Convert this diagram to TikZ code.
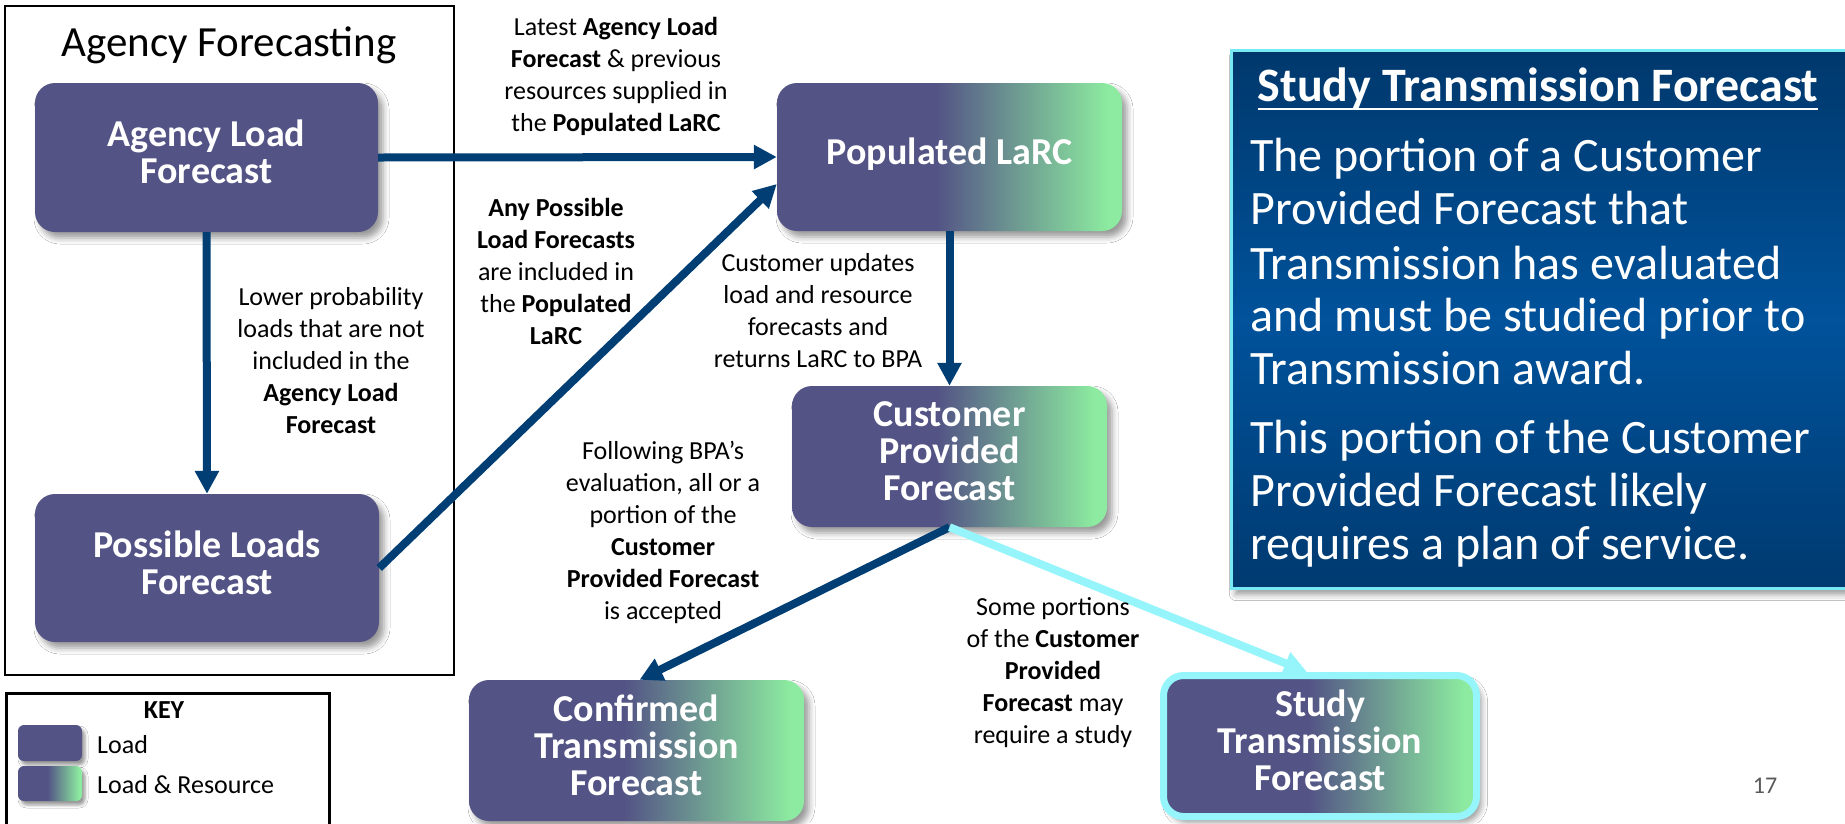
\documentclass[tikz,border=0pt]{standalone}
\usepackage{fontspec}
\setmainfont{Carlito}
\usetikzlibrary{arrows.meta,shadows.blur}
\definecolor{loadc}{RGB}{83,83,133}
\definecolor{resc}{RGB}{140,235,160}
\definecolor{arrc}{RGB}{0,62,116}
\definecolor{cyanc}{RGB}{150,245,250}
\definecolor{infotop}{RGB}{0,56,108}
\definecolor{infomid}{RGB}{0,82,155}
\definecolor{infobot}{RGB}{0,58,112}
\definecolor{infoborder}{RGB}{120,232,245}
\definecolor{pgnum}{RGB}{89,89,89}
\pgfdeclarehorizontalshading{loadres}{100bp}{color(0bp)=(loadc); color(48bp)=(loadc); color(73bp)=(resc); color(100bp)=(resc)}
\tikzset{
  nodebox/.style={rounded corners=20pt, inner sep=4pt, text=white, align=center,
    font=\bfseries\fontsize{38}{37}\selectfont, text depth=11pt,
    blur shadow={shadow xshift=5pt, shadow yshift=-6pt, shadow blur radius=6pt, shadow opacity=40}},
  loadbox/.style={nodebox, fill=loadc},
  lrbox/.style={nodebox, shading=loadres},
  arr/.style={draw=arrc, line width=8pt, -{Triangle[length=23pt,width=23pt]}},
  carr/.style={arr, draw=cyanc},
  lbl/.style={font=\fontsize{26}{32}\selectfont, align=center, text=black, inner sep=0pt},
  frame/.style={draw=black, line width=2.5pt, inner sep=0pt, fill=none},
  swatch/.style={rounded corners=6pt, minimum width=64pt, inner sep=0pt,
    blur shadow={shadow xshift=3pt, shadow yshift=-4pt, shadow blur radius=3pt, shadow opacity=40}},
  infoline/.style={anchor=base west, inner sep=0pt, text=white, font=\fontsize{48}{53}\selectfont},
  keytext/.style={anchor=west, inner sep=0pt, font=\fontsize{26}{30}\selectfont}
}
\begin{document}
\begin{tikzpicture}[x=1pt,y=-1pt]
\useasboundingbox (0,0) rectangle (1845,823);
\fill[white] (0,0) rectangle (1845,823);

% Agency forecasting frame
\node[frame, minimum width=449pt, minimum height=669pt] (agf) at (229.5,340.5) {};
\node[inner sep=0pt, font=\fontsize{43}{50}\selectfont] (agft) at (229,45) {Agency Forecasting};

% Key frame
\node[frame, minimum width=323pt, minimum height=160pt, anchor=north west] (keyb) at (5,692) {};
\node[inner sep=0pt, font=\bfseries\fontsize{26}{30}\selectfont] (keyt) at (164,710) {KEY};
\node[swatch, fill=loadc, minimum height=36pt] (sw1) at (50,743) {};
\node[swatch, shading=loadres, minimum height=35pt] (sw2) at (50,783.5) {};
\node[keytext] (kl1) at (97,745) {Load};
\node[keytext] (kl2) at (97,785) {Load \& Resource};

% Info box
\node[draw=infoborder, line width=3pt, top color=infotop, bottom color=infobot, middle color=infomid,
  minimum width=620pt, minimum height=538pt, anchor=north west, inner sep=0pt,
  blur shadow={shadow xshift=4pt, shadow yshift=-6pt, shadow blur radius=6pt, shadow opacity=40}] (info) at (1230,49) {};
\node[anchor=base, inner sep=0pt, text=white, font=\bfseries\fontsize{48}{53}\selectfont] (infot) at (1538,101) {Study Transmission Forecast};
\draw[white, line width=2.5pt] ([yshift=-8pt]infot.base west) -- ([yshift=-8pt]infot.base east);
\node[infoline] (i1) at (1250,171) {The portion of a Customer};
\node[infoline] (i2) at (1250,224) {Provided Forecast that};
\node[infoline] (i3) at (1250,279) {Transmission has evaluated};
\node[infoline] (i4) at (1250,331) {and must be studied prior to};
\node[infoline] (i5) at (1250,384) {Transmission award.};
\node[infoline] (i6) at (1250,453) {This portion of the Customer};
\node[infoline] (i7) at (1250,506) {Provided Forecast likely};
\node[infoline] (i8) at (1250,559) {requires a plan of service.};

% Main nodes
\node[loadbox, minimum width=343pt, minimum height=149pt] (alf) at (206.5,157.5) {Agency Load\\Forecast};
\node[loadbox, minimum width=344pt, minimum height=148pt] (plf) at (207,568) {Possible Loads\\Forecast};
\node[lrbox, minimum width=345pt, minimum height=148pt] (plarc) at (949.5,157) {Populated LaRC};
\node[lrbox, minimum width=315pt, minimum height=141pt] (cpf) at (949.5,456.5) {Customer\\Provided\\Forecast};
\node[lrbox, minimum width=335pt, minimum height=141pt] (ctf) at (636.5,750.5) {Confirmed\\Transmission\\Forecast};
\node[lrbox, draw=cyanc, line width=7pt, minimum width=313pt, minimum height=141pt] (stf) at (1320,746) {Study\\Transmission\\Forecast};

% Connectors
\draw[arr] (alf.east) -- (plarc.west);
\draw[arr] (plf.east) -- ([yshift=-27pt]plarc.west);
\draw[arr] (alf.south) -- (plf.north);
\draw[arr] (plarc.south) -- (cpf.north);
\draw[arr] (cpf.south) -- ([xshift=3pt]ctf.north);
\draw[carr] (cpf.south) -- ([xshift=-13pt]stf.north);

% Labels
\node[lbl] (l1) at (616,76.5) {Latest \textbf{Agency Load}\\\textbf{Forecast} \& previous\\resources supplied in\\the \textbf{Populated LaRC}};
\node[lbl] (l2) at (556,271) {\textbf{Any Possible}\\\textbf{Load Forecasts}\\are included in\\the \textbf{Populated}\\\textbf{LaRC}};
\node[lbl] (l3) at (331,360.5) {Lower probability\\loads that are not\\included in the\\\textbf{Agency Load}\\\textbf{Forecast}};
\node[lbl] (l4) at (818,311) {Customer updates\\load and resource\\forecasts and\\returns LaRC to BPA};
\node[lbl] (l5) at (663,532) {Following BPA’s\\evaluation, all or a\\portion of the\\\textbf{Customer}\\\textbf{Provided Forecast}\\is accepted};
\node[lbl] (l6) at (1053,672.5) {Some portions\\of the \textbf{Customer}\\\textbf{Provided}\\\textbf{Forecast} may\\require a study};

\node[inner sep=0pt, text=pgnum, font=\fontsize{24}{28}\selectfont] (pg) at (1765,786) {17};
\end{tikzpicture}
\end{document}
